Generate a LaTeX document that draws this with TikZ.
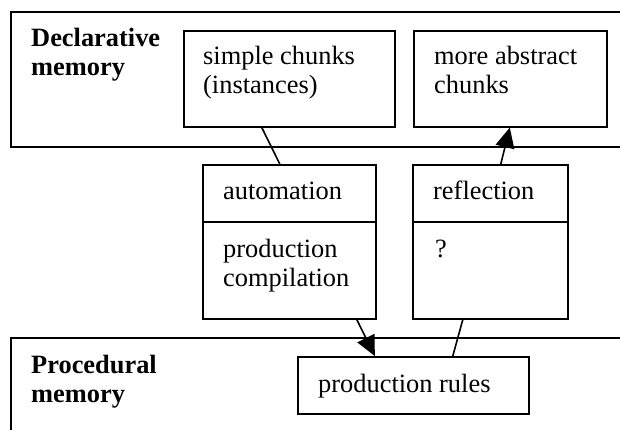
\documentclass[tikz,border=0pt]{standalone}
\usepackage{fontspec}
\setmainfont{Liberation Serif}
\usetikzlibrary{arrows.meta}

\tikzset{
  box/.style={draw, line width=1.6pt, inner sep=0pt, anchor=north west},
  lbl/.style={anchor=base west, inner sep=0pt, align=left, font=\fontsize{26.4}{29}\selectfont},
  head/.style={lbl, font=\fontsize{26.4}{29}\selectfont\bfseries},
  link/.style={line width=1.6pt},
  flow/.style={link, -{Triangle[length=20pt,width=19pt]}},
}

\begin{document}
\begin{tikzpicture}[x=1pt,y=-1pt]
    \clip (0,0) rectangle (620,430);
    %declarative memory and its chunks
    \node[box, minimum width=700pt, minimum height=135pt] (decl) at (10,11) {};
    \node[head] (decltxt) at (31,76) {Declarative\\memory};
    \node[box, minimum width=211pt, minimum height=96pt] (simple) at (183,30) {};
    \node[lbl] (simpletxt) at (203,94) {simple chunks\\(instances)};
    \node[box, minimum width=193pt, minimum height=96pt] (abstract) at (413,30) {};
    \node[lbl] (abstracttxt) at (434,94) {more abstract\\chunks};
    %the two learning mechanisms
    \node[box, minimum width=173pt, minimum height=57pt] (auto) at (202,164) {};
    \node[box, minimum width=173pt, minimum height=97pt] (autolow) at (202,221) {};
    \node[lbl] (autotxt) at (223,200) {automation};
    \node[lbl] (compiletxt) at (223,286) {production\\compilation};
    \node[box, minimum width=155pt, minimum height=57pt] (refl) at (412,164) {};
    \node[box, minimum width=155pt, minimum height=97pt] (refllow) at (412,221) {};
    \node[lbl] (refltxt) at (433,200) {reflection};
    \node[lbl] (unknowntxt) at (435,257) {?};
    %procedural memory
    \node[box, minimum width=700pt, minimum height=200pt] (proc) at (10,337) {};
    \node[head] (proctxt) at (31,402) {Procedural\\memory};
    \node[box, minimum width=231pt, minimum height=57pt] (rules) at (297,356) {};
    \node[lbl] (rulestxt) at (318,392) {production rules};
    %links between the boxes
    \draw[link] ([xshift=-27.5pt]simple.south) -- ([xshift=-9.5pt]auto.north);
    \draw[flow] ([xshift=10.5pt]refl.north) -- ([xshift=-0.5pt]abstract.south);
    \draw[flow] ([xshift=67.5pt]autolow.south) -- ([xshift=-38.5pt]rules.north);
    \draw[link] ([xshift=39.5pt]rules.north) -- ([xshift=-27.5pt]refllow.south);
\end{tikzpicture}
\end{document}
